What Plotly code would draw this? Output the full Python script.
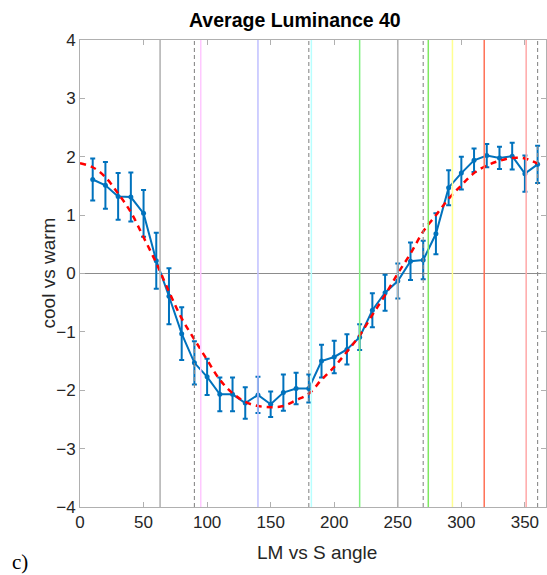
import plotly.graph_objects as go

# ---- data ----
angles = [10, 20, 30, 40, 50, 60, 70, 80, 90, 100, 110, 120, 130, 140, 150, 160, 170, 180,
          190, 200, 210, 220, 230, 240, 250, 260, 270, 280, 290, 300, 310, 320, 330, 340, 350, 360]
response = [1.61, 1.51, 1.32, 1.31, 1.03, 0.22, -0.39, -1.03, -1.53, -1.77, -2.07, -2.07,
            -2.22, -2.08, -2.24, -2.04, -1.97, -1.97, -1.50, -1.43, -1.30, -1.09, -0.63, -0.33,
            -0.13, 0.21, 0.23, 0.68, 1.47, 1.72, 1.94, 2.02, 1.98, 2.01, 1.71, 1.87]
err = [0.36, 0.40, 0.40, 0.42, 0.40, 0.48, 0.48, 0.45, 0.37, 0.31, 0.29, 0.29,
       0.27, 0.31, 0.22, 0.31, 0.27, 0.24, 0.28, 0.28, 0.26, 0.22, 0.29, 0.31,
       0.30, 0.32, 0.33, 0.35, 0.30, 0.28, 0.20, 0.20, 0.19, 0.23, 0.31, 0.32]

fit_angles = [0, 10, 20, 30, 40, 50, 60, 70, 80, 90, 100, 110, 120, 130, 140, 150, 160, 170, 180,
              190, 200, 210, 220, 230, 240, 250, 260, 270, 280, 290, 300, 310, 320, 330, 340, 350, 360]
fit_values = [1.89, 1.82, 1.65, 1.37, 1.05, 0.62, 0.18, -0.31, -0.77, -1.13, -1.48, -1.82, -2.05,
              -2.20, -2.27, -2.29, -2.27, -2.17, -2.06, -1.82, -1.60, -1.34, -1.06, -0.71, -0.37,
              0.00, 0.34, 0.72, 1.00, 1.28, 1.51, 1.72, 1.85, 1.93, 1.98, 1.97, 1.88]

vline_pos = [63, 90, 95, 140, 180, 182, 220, 250, 270, 274, 293, 318, 351, 360]
vline_col = ['#b4b4b4', '#8a8a8a', '#ffc8ff', '#c0c0ff', '#8a8a8a', '#b8ffff', '#80f080',
             '#b4b4b4', '#8a8a8a', '#7ee860', '#ffff90', '#ff7055', '#ffa8a8', '#8a8a8a']
vline_dash = ['solid', 'dash', 'solid', 'solid', 'dash', 'solid', 'solid',
              'solid', 'dash', 'solid', 'solid', 'solid', 'solid', 'dash']
vline_w = [1.6, 1.1, 1.5, 1.5, 1.1, 1.5, 1.5, 1.6, 1.1, 1.5, 1.5, 1.5, 1.5, 1.1]

x_ticks = [0, 50, 100, 150, 200, 250, 300, 350]
y_ticks = [-4, -3, -2, -1, 0, 1, 2, 3, 4]

BLUE = '#0072BD'
TXT = '#262626'
AX = '#b0b0b0'

fig = go.Figure()

fig.add_trace(go.Scatter(
    x=angles, y=response, mode='lines+markers',
    line=dict(color=BLUE, width=2),
    marker=dict(color=BLUE, size=5),
    error_y=dict(type='data', array=err, visible=True, color=BLUE, thickness=2, width=2.5),
    showlegend=False, hoverinfo='skip'))

fig.add_trace(go.Scatter(
    x=fit_angles, y=fit_values, mode='lines', line_shape='spline',
    line=dict(color='#ff0000', width=2.5, dash='6px,5px'),
    showlegend=False, hoverinfo='skip'))

for xp, c, d, w in zip(vline_pos, vline_col, vline_dash, vline_w):
    fig.add_trace(go.Scatter(
        x=[xp, xp], y=[y_ticks[0], y_ticks[-1]], mode='lines',
        line=dict(color=c, width=w, dash='4px,3px' if d == 'dash' else 'solid'),
        showlegend=False, hoverinfo='skip'))

font_fam = 'Liberation Sans, Arial, sans-serif'
PW = 466.0   # plot width in px

fig.update_layout(
    width=547, height=575,
    margin=dict(l=80, r=1, t=40, b=68),
    plot_bgcolor='white', paper_bgcolor='white',
    font=dict(family=font_fam, color=TXT, size=17),
    xaxis=dict(range=[0, 366.6], tickvals=x_ticks, ticks='inside', ticklen=5,
               tickcolor=AX, showline=True, linecolor=AX, linewidth=1, mirror='ticks',
               showgrid=False, zeroline=False,
               tickfont=dict(size=17, color=TXT)),
    yaxis=dict(range=[-4, 4], tickvals=y_ticks, ticks='inside', ticklen=5,
               tickcolor=AX, showline=True, linecolor=AX, linewidth=1, mirror='ticks',
               showgrid=False, zeroline=True, zerolinecolor='#8c8c8c', zerolinewidth=1,
               tickfont=dict(size=17, color=TXT)),
    annotations=[
        dict(text='<b>Average Luminance 40</b>', xref='paper', yref='paper',
             x=(295 - 80) / PW, y=1, yshift=20, xanchor='center', yanchor='middle',
             showarrow=False, font=dict(size=19.5, color='black', family=font_fam)),
        dict(text='LM vs S angle', xref='paper', yref='paper',
             x=(317 - 80) / PW, y=0, yshift=-45, xanchor='center', yanchor='middle',
             showarrow=False, font=dict(size=19, color=TXT, family=font_fam)),
        dict(text='cool vs warm', xref='paper', yref='paper', textangle=-90,
             x=0, xshift=-32, y=0.5, xanchor='center', yanchor='middle',
             showarrow=False, font=dict(size=19, color=TXT, family=font_fam)),
        dict(text='c)', xref='paper', yref='paper', x=-70 / PW, y=0, yshift=-55,
             xanchor='left', yanchor='middle', showarrow=False,
             font=dict(size=21, color='black', family='Liberation Serif, Times New Roman, serif')),
    ],
)

fig.write_html('out.html')
